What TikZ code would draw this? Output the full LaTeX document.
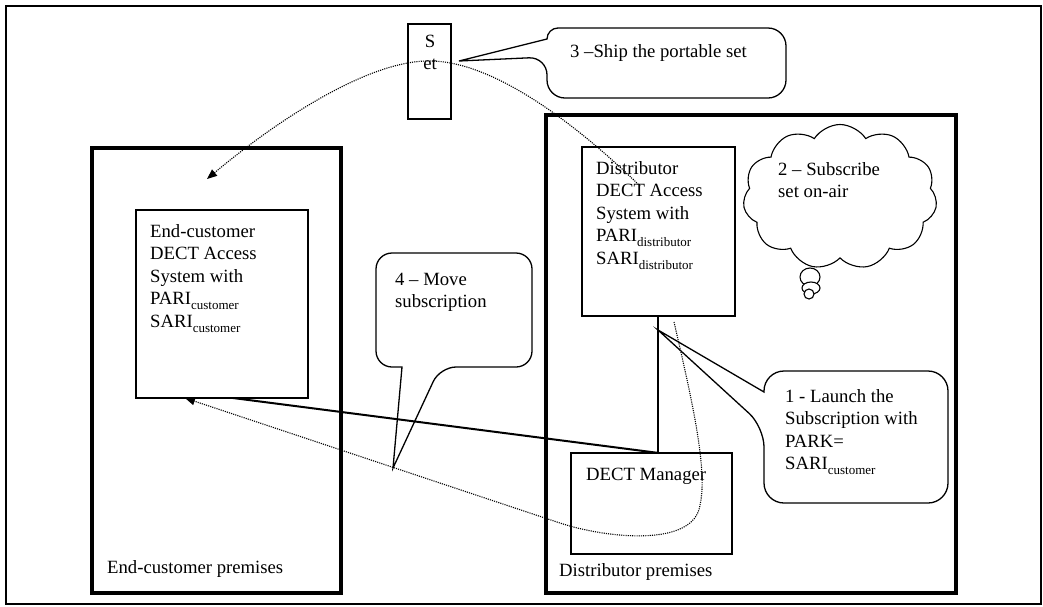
\documentclass[tikz,border=0pt]{standalone}
\usepackage{fontspec}
\setmainfont{Liberation Serif}
\usetikzlibrary{arrows.meta,shapes.symbols}
% lowered, smaller index text (PARI/SARI qualifiers)
\newcommand\lowsub[1]{\raisebox{-5pt}{\fontsize{13}{13}\selectfont #1}}
% stacked lines whose reference point is the first baseline
\newcommand\stackL[1]{\begin{tabular}[t]{@{}l@{}}#1\end{tabular}}
\newcommand\stackC[1]{\begin{tabular}[t]{@{}c@{}}#1\end{tabular}}
\begin{document}
\begin{tikzpicture}[x=1pt,y=-1pt,
  frame/.style={line width=2pt},
  premises/.style={draw, line width=3.3pt, anchor=north west, inner sep=0pt, outer sep=0pt},
  unit/.style={draw, line width=1.1pt, anchor=north west, inner sep=0pt, outer sep=0pt},
  txt/.style={anchor=base west, inner sep=0pt, font=\fontsize{18.7}{22.5}\selectfont},
  link/.style={line width=1.3pt},
  heavylink/.style={line width=2pt},
  callout/.style={line width=1.3pt},
  dots/.style={line width=1.1pt, dash pattern=on 1.1pt off 1.1pt,
               -{Triangle[length=10pt,width=8pt]}},
]
\useasboundingbox (0,0) rectangle (1043,606);

% page frame
\draw[frame] (6,604) -- (6,5.7) -- (1041,5.7) -- (1041,604) -- cycle;

% premises
\node[premises, minimum width=249pt, minimum height=445pt] (ecprem) at (92,148) {};
\node[premises, minimum width=410pt, minimum height=478pt] (dprem) at (546,115) {};
\node[txt] (ecpremtxt) at (107,573) {End-customer premises};
\node[txt] (dpremtxt) at (559,576) {Distributor premises};

% access systems and manager
\node[unit, minimum width=172pt, minimum height=188pt] (ec) at (136,210) {};
\node[txt] (ectxt) at (150,237) {\stackL{End-customer\\DECT Access\\System with\\PARI\lowsub{customer}\\SARI\lowsub{customer}}};
\node[unit, minimum width=153pt, minimum height=169pt] (dist) at (582,147) {};
\node[txt] (disttxt) at (596,174) {\stackL{Distributor\\DECT Access\\System with\\PARI\lowsub{distributor}\\SARI\lowsub{distributor}}};
\node[unit, minimum width=161pt, minimum height=101pt] (mgr) at (571,453) {};
\node[txt] (mgrtxt) at (586,480) {DECT Manager};

% portable set
\node[unit, minimum width=43pt, minimum height=95pt] (set) at (408,24) {};
\node[txt, anchor=base] (settxt) at (430,47) {\stackC{S\\et}};

% wiring
\coordinate (ecb) at ([xshift=97pt]ec.south west);
\coordinate (mgrt) at ([xshift=88pt]mgr.north west);
\coordinate (distb) at ([xshift=76pt]dist.south west);
\draw[heavylink] (ecb) -- (mgrt);
\draw[link] (distb) -- ([xshift=87pt]mgr.north west);

% 3 - ship the portable set
\coordinate (tip3) at (459,61);
\draw[callout] (660,28) [rounded corners=18] -- (786,28) -- (786,98) -- (547,98)
  -- (547,57) [sharp corners] -- (tip3) -- (547,39) [rounded corners=11] -- (547,28) -- cycle;
\node[txt] (c3txt) at (570,57) {3 --Ship the portable set};

% 2 - subscribe set on-air
\node[cloud, draw, line width=1.1pt, cloud puffs=11, cloud puff arc=115, aspect=1.3,
      minimum width=194pt, minimum height=145pt, inner sep=0pt] (cl) at (840,197) {};
\draw[line width=1.1pt] (810,277) ellipse (10pt and 9pt);
\draw[line width=1.1pt, fill=white] (811,288) ellipse (9pt and 6pt);
\draw[line width=1.1pt, fill=white] (809,294) circle (5pt);
\node[txt] (cltxt) at (778,175) {\stackL{2 -- Subscribe\\set on-air}};

% 1 - launch the subscription
\coordinate (tip1) at (658,330);
\draw[callout] (856,371) [rounded corners=20] -- (948,371) -- (948,503) -- (764,503)
  -- (764,427) [sharp corners] -- (tip1) -- (764,392) [rounded corners=20] -- (764,371) -- cycle;
\node[txt] (c1txt) at (785,402) {\stackL{1 - Launch the\\Subscription with\\PARK=\\SARI\lowsub{customer}}};

% 4 - move subscription
\coordinate (tip4) at (393,468);
\draw[callout] (454,253) [rounded corners=16] -- (532,253) -- (532,367) -- (440,367)
  [sharp corners] -- (tip4) -- (402,367) [rounded corners=16] -- (376,367) -- (376,253) -- cycle;
\node[txt] (c4txt) at (395,285) {\stackL{4 -- Move\\subscription}};

% set shipped from the distributor to the end-customer
\coordinate (s1) at (640,186);
\coordinate (peak) at (430,61);
\coordinate (e1) at (207,179);
\draw[dots] (s1) .. controls (570,118) and (490,61) .. (peak)
  .. controls (370,60) and (280,118) .. (e1);

% subscription moved to the end-customer system
\coordinate (s2) at (674,322);
\coordinate (ect) at ([xshift=49pt]ec.south west);
\draw[dots] (s2) .. controls (692,400) and (708,470) .. (700,505)
  .. controls (694,548) and (605,538) .. (560,523) -- (ect);
\end{tikzpicture}
\end{document}
